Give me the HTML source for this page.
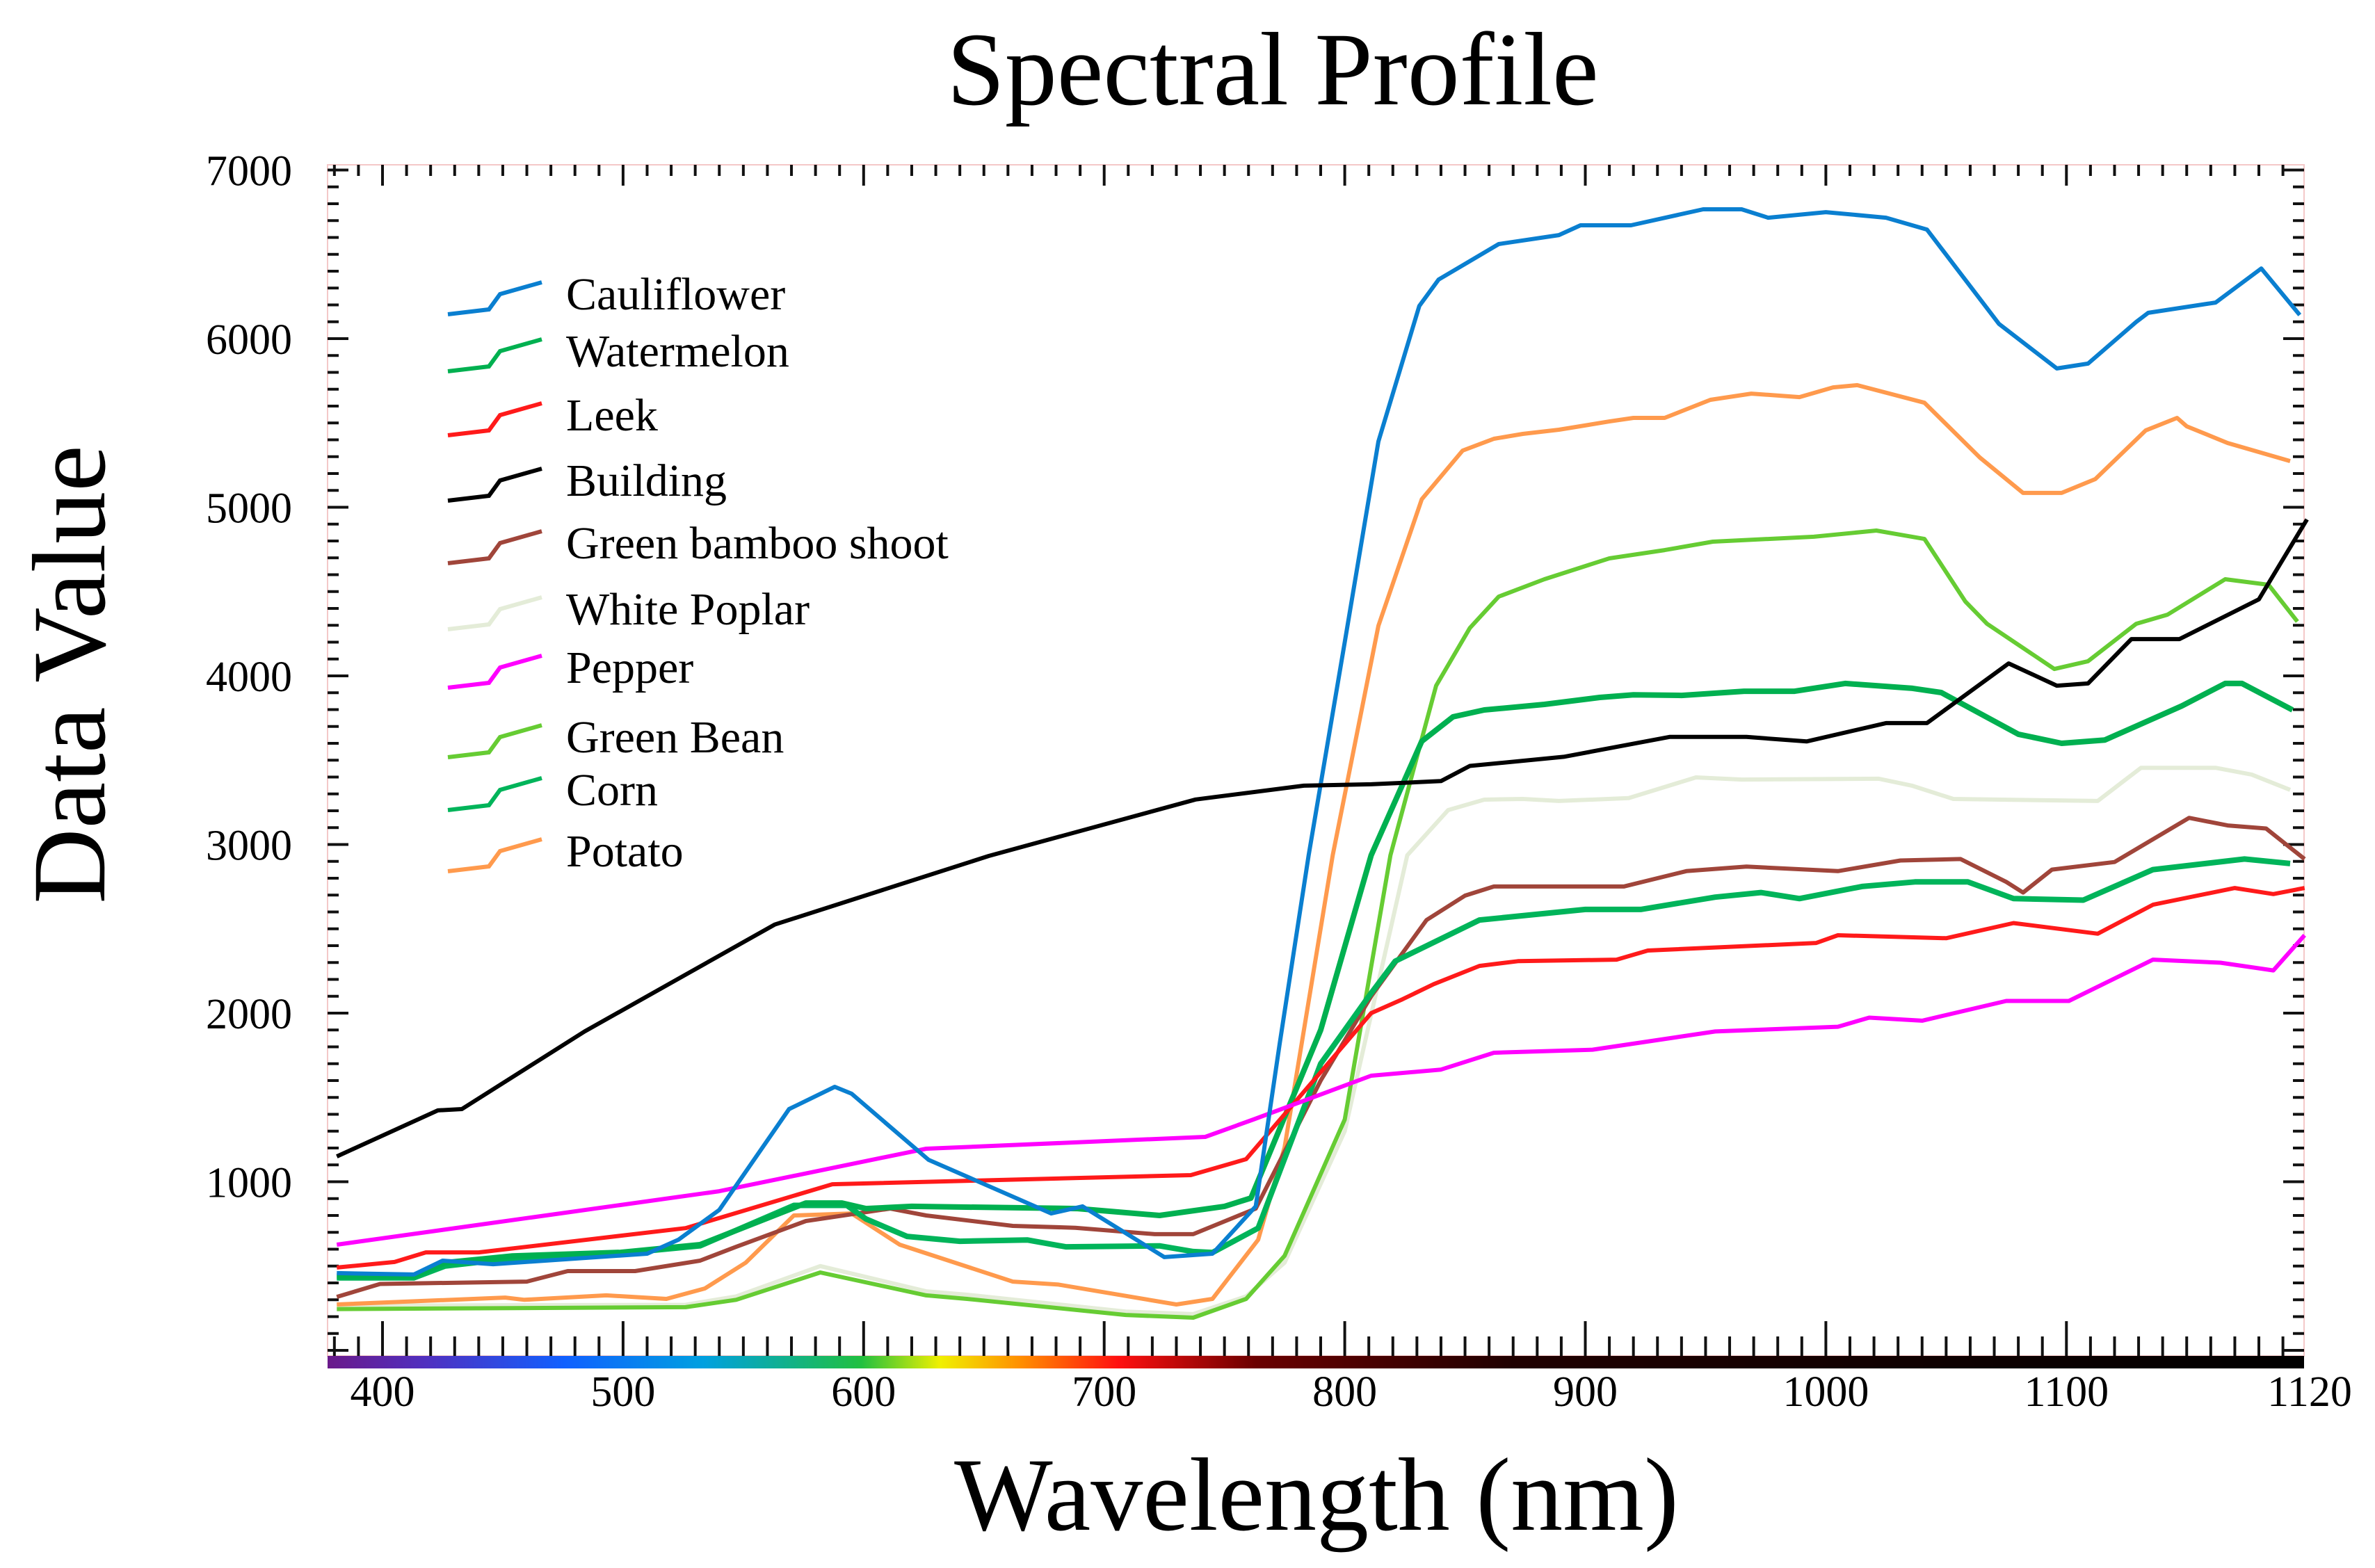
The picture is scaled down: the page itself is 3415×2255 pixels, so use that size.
<!DOCTYPE html>
<html><head><meta charset="utf-8"><style>
html,body{margin:0;padding:0;background:#fff;}
svg{display:block;}
</style></head><body>
<svg id="chart" width="3415" height="2255" viewBox="0 0 3415 2255" xmlns="http://www.w3.org/2000/svg" font-family="'Liberation Serif', serif">
<defs>
<linearGradient id="spec" x1="0" x2="1" y1="0" y2="0">
<stop offset="0" stop-color="#6a1a8a"/>
<stop offset="0.05" stop-color="#5030c0"/>
<stop offset="0.12" stop-color="#1060ff"/>
<stop offset="0.19" stop-color="#00a0e0"/>
<stop offset="0.27" stop-color="#20c040"/>
<stop offset="0.31" stop-color="#f0f000"/>
<stop offset="0.35" stop-color="#ff9000"/>
<stop offset="0.40" stop-color="#ff1010"/>
<stop offset="0.47" stop-color="#6a0000"/>
<stop offset="0.6" stop-color="#200000"/>
<stop offset="1" stop-color="#000"/>
</linearGradient>
</defs>
<text x="1830" y="150" font-size="150" text-anchor="middle">Spectral Profile</text>
<text x="0" y="0" font-size="150" text-anchor="middle" transform="translate(150,970) rotate(-90)">Data Value</text>
<text x="1893" y="2200" font-size="150" text-anchor="middle">Wavelength (nm)</text>
<g id="axes"></g>
<g id="series"></g>
<g id="legend"></g>
</svg>
<script>
const wlCauliflower=[381,413,425,446,510,523,540,569,588,595,627,678,691,725,745,763,773,785,800,814,831,839,864,889,898,919,949,965,976,1000,1025,1042,1072,1096,1109,1129,1134,1162,1181,1197];
const valCauliflower=[458,450,532,511,573,656,833,1431,1563,1522,1130,812,854,553,573,854,1823,2936,4200,5390,6194,6350,6561,6614,6672,6672,6767,6767,6717,6750,6717,6647,6087,5823,5852,6099,6153,6214,6416,6140];
const wlWatermelon=[381,413,426,454,499,532,576,591,601,620,689,723,750,761,790,811,832,845,858,883,906,920,940,966,987,1008,1036,1048,1080,1098,1116,1148,1166,1173,1194];
const valWatermelon=[440,440,520,560,581,627,874,874,841,854,841,800,854,903,1900,2936,3612,3757,3798,3831,3872,3888,3884,3909,3909,3955,3926,3901,3654,3600,3620,3822,3955,3955,3798];
const wlLeek=[381,405,418,440,526,587,736,759,790,811,824,837,856,872,913,926,996,1005,1050,1078,1113,1136,1170,1186,1199];
const valLeek=[491,524,581,581,725,985,1039,1134,1650,2000,2082,2172,2280,2308,2317,2371,2416,2462,2444,2534,2471,2643,2742,2706,2742];
const wlBuilding=[381,423,433,484,563,652,738,783,811,840,852,891,935,967,992,1025,1042,1076,1096,1109,1127,1147,1180,1200];
const valBuilding=[1150,1423,1431,1891,2525,2932,3267,3349,3357,3376,3466,3520,3638,3638,3611,3720,3720,4074,3942,3955,4218,4218,4454,4928];
const wlBamboo=[381,399,460,477,505,532,547,576,611,626,662,688,721,737,763,790,811,834,850,862,916,942,967,1005,1031,1056,1075,1082,1094,1120,1151,1167,1183,1199];
const valBamboo=[317,394,408,470,470,532,614,767,841,800,738,727,689,689,841,1600,2100,2552,2697,2751,2751,2842,2869,2842,2905,2914,2778,2715,2851,2896,3158,3113,3095,2914];
const wlPoplar=[381,526,547,582,626,643,709,737,759,775,800,826,843,858,874,889,918,946,965,1022,1036,1053,1113,1131,1162,1177,1193];
const valPoplar=[265,270,320,500,350,330,230,215,320,520,1300,2936,3204,3266,3270,3258,3275,3398,3385,3390,3348,3270,3258,3455,3455,3415,3324];
const wlPepper=[381,540,626,742,762,811,840,862,903,954,1005,1018,1040,1075,1101,1136,1164,1186,1199];
const valPepper=[627,944,1196,1266,1369,1629,1665,1765,1783,1891,1919,1973,1955,2072,2072,2317,2299,2253,2462];
const wlBean=[381,526,547,582,626,643,709,737,759,775,800,819,838,852,864,883,910,933,953,995,1021,1041,1058,1067,1095,1109,1129,1142,1166,1184,1196];
const valBean=[245,256,300,462,326,305,210,194,305,561,1369,2936,3942,4284,4470,4573,4697,4746,4796,4825,4862,4812,4441,4309,4041,4087,4309,4363,4573,4540,4322];
const wlCorn=[381,413,426,454,499,532,571,593,601,618,640,668,684,723,737,745,764,790,810,821,856,900,923,954,973,989,1015,1037,1059,1078,1107,1136,1174,1193];
const valCorn=[430,430,500,545,575,620,860,860,779,676,647,655,614,620,586,580,725,1700,2100,2308,2552,2615,2615,2688,2715,2679,2751,2778,2778,2679,2670,2851,2914,2887];
const wlPotato=[381,451,459,493,518,534,551,571,595,615,662,681,730,745,764,775,795,814,832,849,862,874,889,910,920,933,952,969,989,1003,1013,1041,1064,1082,1098,1112,1133,1146,1150,1167,1193];
const valPotato=[272,313,300,326,305,367,520,800,812,627,408,390,272,305,656,1204,2936,4297,5047,5336,5406,5435,5460,5509,5530,5530,5637,5674,5653,5711,5724,5620,5295,5085,5085,5167,5456,5530,5480,5381,5274];
const seriesNames=["Cauliflower","Watermelon","Leek","Building","Green bamboo shoot","White Poplar","Pepper","Green Bean","Corn","Potato"];
const xTickValues=[400,500,600,700,800,900,1000,1100];
const xTickLabels=["400","500","600","700","800","900","1000","1100"];
const yTickValues=[1000,2000,3000,4000,5000,6000,7000];
const yTickLabels=["1000","2000","3000","4000","5000","6000","7000"];

const NS="http://www.w3.org/2000/svg";
const L=471,R=3313,T=237,B=1950;
function X(w){return 550+(w-400)*3.459;}
function Y(v){return 1942-v*0.2425;}
function mk(tag,attrs,parent){const e=document.createElementNS(NS,tag);for(const k in attrs)e.setAttribute(k,attrs[k]);parent.appendChild(e);return e;}
const axes=document.getElementById('axes');
const fr=mk('rect',{x:L,y:T,width:R-L,height:B-T,fill:'none',stroke:'#f4c8c8','stroke-width':2},axes);


const sb=mk('rect',{x:L,y:B,width:R-L,height:18,fill:'url(#spec)'},axes);


for(let w=380;w<=1199;w+=10){
  const x=X(w);const major=(w%100===0);
  const t1=mk('line',{x1:x,x2:x,y1:T,y2:T+(major?30:16),stroke:'#111','stroke-width':4},axes);
  
  
  const t2=mk('line',{x1:x,x2:x,y1:B,y2:B-(major?50:28),stroke:'#111','stroke-width':4},axes);
  
  
}
for(let v=0;v<=7000;v+=100){
  const y=Y(v);const major=(v%1000===0);
  const t1=mk('line',{x1:L,x2:L+(major?30:16),y1:y,y2:y,stroke:'#111','stroke-width':4},axes);
  
  
  const t2=mk('line',{x1:R,x2:R-(major?30:16),y1:y,y2:y,stroke:'#111','stroke-width':4},axes);
  
  
}
xTickValues.forEach((v,i)=>{
  const t=mk('text',{x:X(v),y:2022,'font-size':62,'text-anchor':'middle'},axes);
  t.textContent=xTickLabels[i];
  
  
});
{
  const t=mk('text',{x:R+8,y:2022,'font-size':62,'text-anchor':'middle'},axes);
  t.textContent="1120";
  
  
}
yTickValues.forEach((v,i)=>{
  const t=mk('text',{x:420,y:Y(v)+22,'font-size':62,'text-anchor':'end'},axes);
  t.textContent=yTickLabels[i];
  
  
});
const series=[
 [wlCauliflower,valCauliflower,'#0a7fd0','cauliflower'],
 [wlWatermelon,valWatermelon,'#00b050','watermelon'],
 [wlLeek,valLeek,'#ff1a1a','leek'],
 [wlBuilding,valBuilding,'#000000','building'],
 [wlBamboo,valBamboo,'#a0453a','green-bamboo-shoot'],
 [wlPoplar,valPoplar,'#e4ecd8','white-poplar'],
 [wlPepper,valPepper,'#ff00ff','pepper'],
 [wlBean,valBean,'#66cc33','green-bean'],
 [wlCorn,valCorn,'#00b45a','corn'],
 [wlPotato,valPotato,'#ff9a4d','potato']
];
const sg=document.getElementById('series');
const order=[5,7,9,4,8,1,2,6,0,3];
order.forEach(i=>{
  const s=series[i];
  const pts=s[0].map((w,j)=>X(w).toFixed(1)+','+Y(s[1][j]).toFixed(1)).join(' ');
  const p=mk('polyline',{points:pts,fill:'none',stroke:s[2],'stroke-width':(i===1||i===8)?8:6,'stroke-linejoin':'round'},sg);
  
  
});
const lg=document.getElementById('legend');
const rowsY=[423,505,597,691,781,876,960,1060,1136,1224];
seriesNames.forEach((n,i)=>{
  const cy=rowsY[i];
  const g=mk('g',{},lg);
  
  
  const ln=mk('polyline',{points:`644,${cy+29} 703,${cy+22} 719,${cy} 779,${cy-17}`,fill:'none',stroke:series[i][2],'stroke-width':6},g);
  
  
  const t=mk('text',{x:814,y:cy+22,'font-size':66},g);
  t.textContent=n;
  
  
});
</script>
</body></html>
